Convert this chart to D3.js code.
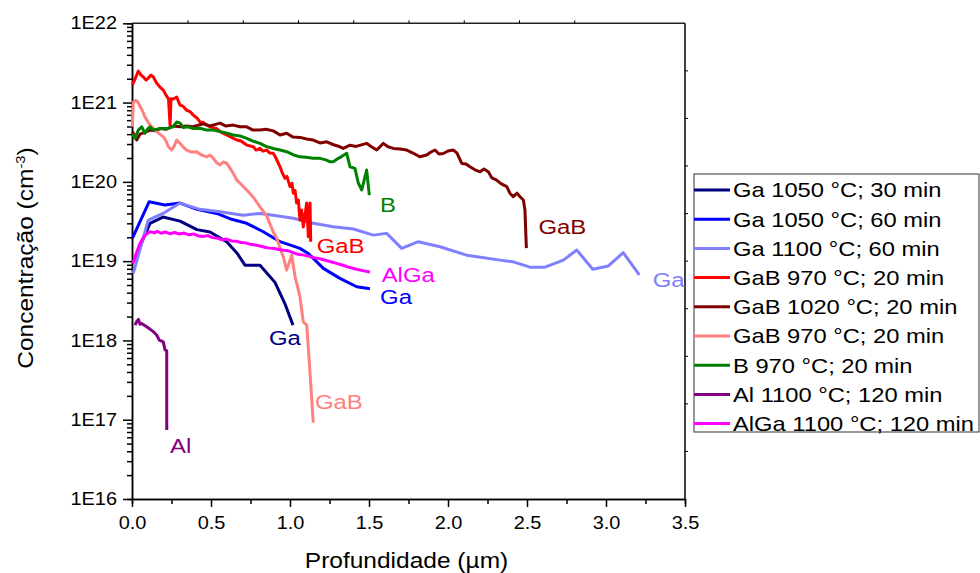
<!DOCTYPE html>
<html lang="en">
    <head>
        <meta charset="utf-8">
        <title>Perfis de concentração</title>
        <script src="https://d3js.org/d3.v7.min.js"></script>
        <style type="text/css">
            body { margin: 0; background: #fff; }
            text { font-family: "Liberation Sans", Arial, sans-serif; fill: #000; }
            .axis path, .axis line { stroke: #000; stroke-width: 1.5px; }
            .axis text { font-size: 17.5px; }
            .curve { fill: none; stroke-width: 3px; stroke-linejoin: round; }
        </style>
    </head>
    <body>
        <script type="text/javascript">

            // depth (um), concentration (cm^-3)
            const ga1050_30 = [[0.01,1.0e19],[0.114,3.0e19],[0.196,3.6e19],[0.304,3.2e19],[0.411,2.5e19],[0.494,2.33e19],[0.601,1.74e19],[0.665,1.26e19],[0.715,8.9e18],[0.81,8.9e18],[0.905,5.4e18],[0.968,2.9e18],[1.019,1.56e18]];
            const ga1050_60 = [[0.003,1.95e19],[0.108,5.6e19],[0.209,5.1e19],[0.304,5.4e19],[0.411,4.5e19],[0.536,4.0e19],[0.631,3.37e19],[0.726,3.0e19],[0.831,2.35e19],[0.937,1.76e19],[1.063,1.45e19],[1.116,1.25e19],[1.211,8.1e18],[1.316,6.07e18],[1.422,4.75e18],[1.506,4.5e18]];
            const ga1100_60 = [[0.008,7.0e18],[0.103,3.3e19],[0.196,4.0e19],[0.304,5.4e19],[0.43,4.5e19],[0.557,4.2e19],[0.704,3.8e19],[0.81,4.0e19],[0.894,3.8e19],[1.021,3.47e19],[1.147,3.0e19],[1.274,2.72e19],[1.401,2.54e19],[1.527,2.13e19],[1.612,2.24e19],[1.707,1.45e19],[1.812,1.76e19],[1.949,1.52e19],[2.118,1.19e19],[2.329,1.03e19],[2.413,9.8e18],[2.519,8.4e18],[2.614,8.4e18],[2.73,1.03e19],[2.815,1.38e19],[2.916,7.9e18],[3.015,8.7e18],[3.109,1.28e19],[3.211,6.7e18]];
            const gab970_a = [[0.002,1.66e21],[0.019,1.98e21],[0.04,2.5e21],[0.057,2.22e21],[0.072,2.1e21],[0.089,1.92e21],[0.103,2.04e21],[0.12,2.22e21],[0.135,2.1e21],[0.156,1.76e21],[0.177,1.57e21],[0.198,1.44e21],[0.215,1.24e21],[0.231,1.11e21],[0.241,5.2e20],[0.247,1.12e21],[0.261,1.11e21],[0.283,1.17e21],[0.304,9.3e20],[0.323,9.0e20],[0.346,8.0e20],[0.367,7.7e20],[0.388,6.95e20],[0.411,6.4e20],[0.43,5.7e20],[0.449,5.65e20],[0.473,5.2e20],[0.5,4.9e20],[0.536,4.7e20],[0.563,4.25e20],[0.599,3.9e20],[0.627,3.67e20],[0.663,3.37e20],[0.69,3.27e20],[0.726,2.91e20],[0.768,2.77e20],[0.785,2.52e20],[0.81,2.65e20],[0.829,2.44e20],[0.853,2.52e20],[0.873,2.31e20],[0.894,2.3e20],[0.911,2.0e20],[0.937,1.55e20],[0.949,1.33e20],[0.968,1.11e20],[0.981,1.17e20],[1.0,8.7e19],[1.013,9.6e19],[1.021,7.2e19],[1.032,7.8e19],[1.042,5.4e19],[1.053,5.9e19],[1.063,3.3e19],[1.074,4.4e19],[1.084,2.7e19],[1.106,5.4e19],[1.116,2.03e19],[1.127,5.4e19],[1.131,1.76e19]];
            const gab1020 = [[0.003,4.3e20],[0.03,3.37e20],[0.051,4.0e20],[0.082,4.2e20],[0.114,4.5e20],[0.146,4.4e20],[0.177,4.7e20],[0.215,4.6e20],[0.261,5.06e20],[0.304,4.95e20],[0.346,5.06e20],[0.386,4.95e20],[0.451,5.4e20],[0.494,5.06e20],[0.557,5.5e20],[0.595,5.06e20],[0.641,5.2e20],[0.684,4.95e20],[0.726,4.95e20],[0.766,4.5e20],[0.81,4.5e20],[0.848,4.6e20],[0.894,4.4e20],[0.937,3.9e20],[0.979,4.1e20],[1.019,3.67e20],[1.063,3.64e20],[1.106,3.47e20],[1.147,3.37e20],[1.19,3.1e20],[1.232,3.2e20],[1.272,2.96e20],[1.316,2.77e20],[1.337,2.64e20],[1.38,2.9e20],[1.418,2.8e20],[1.485,3.06e20],[1.513,2.8e20],[1.549,2.52e20],[1.591,3.06e20],[1.62,2.77e20],[1.654,2.64e20],[1.696,2.6e20],[1.739,2.52e20],[1.778,2.31e20],[1.823,2.07e20],[1.865,2.18e20],[1.892,2.38e20],[1.918,2.52e20],[1.943,2.25e20],[1.97,2.28e20],[2.0,2.45e20],[2.034,2.52e20],[2.057,2.31e20],[2.087,1.71e20],[2.114,1.68e20],[2.139,1.55e20],[2.171,1.42e20],[2.203,1.34e20],[2.228,1.45e20],[2.255,1.34e20],[2.278,1.12e20],[2.308,1.05e20],[2.335,9.5e19],[2.372,8.7e19],[2.392,7.2e19],[2.413,6.5e19],[2.437,7.2e19],[2.456,6.5e19],[2.477,5.9e19],[2.487,4.4e19],[2.496,1.46e19]];
            const gab970_b = [[0.002,4.95e20],[0.008,1.01e21],[0.025,1.07e21],[0.038,1.01e21],[0.051,8.9e20],[0.063,8.1e20],[0.082,6.6e20],[0.095,6.0e20],[0.114,5.2e20],[0.133,4.8e20],[0.156,4.3e20],[0.177,4.0e20],[0.198,3.7e20],[0.215,3.3e20],[0.23,2.77e20],[0.251,2.52e20],[0.266,2.8e20],[0.283,3.37e20],[0.304,3.06e20],[0.323,2.77e20],[0.346,2.52e20],[0.373,2.38e20],[0.409,2.4e20],[0.437,2.2e20],[0.473,2.07e20],[0.494,2.18e20],[0.515,1.98e20],[0.538,1.73e20],[0.557,1.63e20],[0.576,1.78e20],[0.599,1.72e20],[0.62,1.49e20],[0.641,1.28e20],[0.663,1.05e20],[0.684,9.6e19],[0.726,7.9e19],[0.768,6.4e19],[0.81,4.85e19],[0.853,3.7e19],[0.894,2.33e19],[0.916,1.95e19],[0.937,1.46e19],[0.958,1.13e19],[0.979,7.7e18],[1.0,1.03e19],[1.011,1.19e19],[1.032,6.35e18],[1.063,3.56e18],[1.084,1.72e18],[1.106,1.56e18],[1.127,3.85e17],[1.147,9.2e16]];
            const b970 = [[0.003,4.0e20],[0.019,3.54e20],[0.04,4.5e20],[0.061,4.95e20],[0.082,4.1e20],[0.101,4.7e20],[0.114,4.95e20],[0.135,4.5e20],[0.158,4.6e20],[0.177,4.7e20],[0.22,4.7e20],[0.261,4.95e20],[0.283,5.7e20],[0.304,5.5e20],[0.325,4.85e20],[0.354,4.95e20],[0.388,4.7e20],[0.43,4.75e20],[0.473,4.5e20],[0.513,4.5e20],[0.557,4.3e20],[0.595,4.15e20],[0.641,3.9e20],[0.684,3.8e20],[0.726,3.54e20],[0.766,3.27e20],[0.81,3.06e20],[0.848,2.8e20],[0.894,2.64e20],[0.937,2.52e20],[0.979,2.4e20],[1.019,2.2e20],[1.063,2.07e20],[1.101,2.05e20],[1.147,1.98e20],[1.19,1.98e20],[1.232,1.88e20],[1.253,1.79e20],[1.274,1.79e20],[1.306,1.98e20],[1.329,2.1e20],[1.359,2.29e20],[1.38,1.55e20],[1.411,1.48e20],[1.432,9.7e19],[1.454,7.9e19],[1.485,1.41e20],[1.502,6.8e19]];
            const al1100 = [[0.019,1.56e18],[0.032,1.76e18],[0.041,1.84e18],[0.051,1.6e18],[0.061,1.64e18],[0.095,1.48e18],[0.135,1.29e18],[0.156,1.17e18],[0.173,1.01e18],[0.198,9.6e17],[0.209,7.6e17],[0.22,7.4e17],[0.22,7.4e16]];
            const alga1100 = [[0.006,9.4e18],[0.03,1.3e19],[0.051,1.68e19],[0.08,2.1e19],[0.114,2.35e19],[0.14,2.28e19],[0.16,2.38e19],[0.185,2.25e19],[0.21,2.33e19],[0.24,2.22e19],[0.27,2.3e19],[0.3,2.2e19],[0.33,2.26e19],[0.36,2.15e19],[0.39,2.2e19],[0.42,2.08e19],[0.45,2.05e19],[0.48,2.1e19],[0.51,1.98e19],[0.54,1.95e19],[0.57,1.86e19],[0.6,1.9e19],[0.63,1.8e19],[0.66,1.78e19],[0.69,1.72e19],[0.72,1.7e19],[0.75,1.63e19],[0.78,1.6e19],[0.81,1.55e19],[0.84,1.5e19],[0.87,1.46e19],[0.9,1.44e19],[0.93,1.4e19],[0.96,1.37e19],[0.99,1.35e19],[1.02,1.28e19],[1.05,1.22e19],[1.08,1.2e19],[1.12,1.15e19],[1.16,1.1e19],[1.19,1.07e19],[1.23,1.02e19],[1.27,9.7e18],[1.3,9.3e18],[1.34,8.8e18],[1.38,8.3e18],[1.42,7.9e18],[1.46,7.6e18],[1.506,7.3e18]];

            const seriesNames = ["Ga 1050 °C; 30 min", "Ga 1050 °C; 60 min", "Ga 1100 °C; 60 min", "GaB 970 °C; 20 min",
                                 "GaB 1020 °C; 20 min", "GaB 970 °C; 20 min", "B 970 °C; 20 min", "Al 1100 °C; 120 min", "AlGa 1100 °C; 120 min"];
            const seriesData = [ga1050_30, ga1050_60, ga1100_60, gab970_a, gab1020, gab970_b, b970, al1100, alga1100];
            const colors = ["#000080", "#0000ff", "#8080ff", "#ff0000", "#800000", "#ff8080", "#008000", "#800080", "#ff00ff"];

            // curve labels: text, series index, depth, concentration at baseline-left
            const curveLabels = [["B", 6, 1.57, 4.2e19], ["GaB", 4, 2.572, 2.2e19], ["GaB", 3, 1.169, 1.25e19],
                                 ["AlGa", 8, 1.58, 5.4e18], ["Ga", 1, 1.57, 2.85e18], ["Ga", 2, 3.296, 4.75e18],
                                 ["Ga", 0, 0.867, 8.75e17], ["GaB", 5, 1.158, 1.35e17], ["Al", 7, 0.24, 3.84e16]];

            const xTicks = [0, 0.5, 1.0, 1.5, 2.0, 2.5, 3.0, 3.5];
            const yTicks = [1e16, 1e17, 1e18, 1e19, 1e20, 1e21, 1e22];

            const w = 980, h = 573;
            const plotL = 132, plotR = 685, plotT = 23.3, plotB = 499;
            const sx = 1.14; // glyphs in the original are horizontally wide

            const xScale = d3.scaleLinear().domain([0, 3.5]).range([plotL, plotR]);
            const yScale = d3.scaleLog().domain([1e16, 1e22]).range([plotB, plotT]);

            const svg = d3.select("body").append("svg").attr("width", w).attr("height", h);

            // minor ticks
            const xMinor = d3.range(0.25, 3.5, 0.5);
            const yMinor = [];
            yTicks.slice(0, -1).forEach(t => { for (let k = 2; k <= 9; k++) yMinor.push(t * k); });

            svg.append("g").attr("class", "axis")
                .attr("transform", "translate(0," + plotB + ")")
                .call(d3.axisBottom(xScale).tickValues(xMinor).tickSize(5).tickFormat(""));
            svg.append("g").attr("class", "axis")
                .attr("transform", "translate(" + plotL + ",0)")
                .call(d3.axisLeft(yScale).tickValues(yMinor).tickSize(5).tickFormat(""));

            const bottomAxis = svg.append("g").attr("class", "axis")
                .attr("transform", "translate(0," + plotB + ")")
                .call(d3.axisBottom(xScale).tickValues(xTicks).tickSize(8).tickSizeOuter(0).tickPadding(10).tickFormat(d3.format(".1f")));
            bottomAxis.selectAll("text").attr("transform", `scale(${sx},1)`);

            const leftAxis = svg.append("g").attr("class", "axis")
                .attr("transform", "translate(" + plotL + ",0)")
                .call(d3.axisLeft(yScale).tickValues(yTicks).tickSize(9).tickSizeOuter(0).tickFormat(d => "1E" + Math.round(Math.log10(d))));
            leftAxis.selectAll("text").attr("x", -15 / sx).attr("transform", `scale(${sx},1)`);

            // top and right frame with small ticks
            svg.append("line").attr("x1", plotL).attr("x2", plotR).attr("y1", plotT).attr("y2", plotT)
                .attr("stroke", "#222").attr("stroke-width", 1.5);
            svg.append("line").attr("x1", plotR).attr("x2", plotR).attr("y1", plotT).attr("y2", plotB)
                .attr("stroke", "#000").attr("stroke-width", 1.5);
            svg.append("g").selectAll("line").data(d3.range(1, 10)).enter().append("line")
                .attr("x1", plotR).attr("x2", plotR + 3)
                .attr("y1", i => plotT + (plotB - plotT) * i / 10).attr("y2", i => plotT + (plotB - plotT) * i / 10)
                .attr("stroke", "#000").attr("stroke-width", 1);
            svg.append("g").selectAll("line").data(d3.range(1, 9)).enter().append("line")
                .attr("y1", plotT).attr("y2", plotT - 3)
                .attr("x1", i => 188 + (630 - 188) * (i - 1) / 8).attr("x2", i => 188 + (630 - 188) * (i - 1) / 8)
                .attr("stroke", "#000").attr("stroke-width", 1);

            // curves
            const line = d3.line().x(d => xScale(d[0])).y(d => yScale(d[1]));
            svg.selectAll(".curve")
                .data(seriesData)
                .enter()
                .append("path")
                .attr("class", "curve")
                .attr("d", d => line(d))
                .style("stroke", (d, i) => colors[i]);

            // curve labels
            svg.selectAll(".clabel")
                .data(curveLabels)
                .enter()
                .append("text")
                .attr("class", "clabel")
                .attr("transform", d => `translate(${xScale(d[2])},${yScale(d[3])}) scale(${sx},1)`)
                .style("font-size", "21px")
                .style("fill", d => colors[d[1]])
                .text(d => d[0]);

            // axis titles
            svg.append("text")
                .attr("transform", `translate(${(plotL + plotR) / 2 - 2},568) scale(${sx},1)`)
                .attr("text-anchor", "middle")
                .style("font-size", "21.5px")
                .text("Profundidade (µm)");

            const yTitle = svg.append("text")
                .attr("transform", `translate(33,258) rotate(-90) scale(${sx},1)`)
                .attr("text-anchor", "middle")
                .style("font-size", "21.5px");
            yTitle.append("tspan").text("Concentração (cm");
            yTitle.append("tspan").attr("dy", -8).style("font-size", "13px").text("-3");
            yTitle.append("tspan").attr("dy", 8).text(")");

            // legend
            const legend = svg.append("g");
            legend.append("rect")
                .attr("x", 694).attr("y", 174).attr("width", 285).attr("height", 258)
                .attr("fill", "#fff").attr("stroke", "#333").attr("stroke-width", 1);

            const items = legend.selectAll(".legend")
                .data(seriesNames)
                .enter().append("g")
                .attr("class", "legend")
                .attr("transform", (d, i) => `translate(0,${190 + i * 29.2})`);

            items.append("line")
                .attr("x1", 694).attr("x2", 730)
                .attr("stroke-width", 3)
                .attr("stroke", (d, i) => colors[i]);

            items.append("text")
                .attr("transform", `translate(733,0) scale(1.13,1)`)
                .attr("dy", "0.35em")
                .style("font-size", "21px")
                .text(d => d);
        </script>
    </body>
</html>
